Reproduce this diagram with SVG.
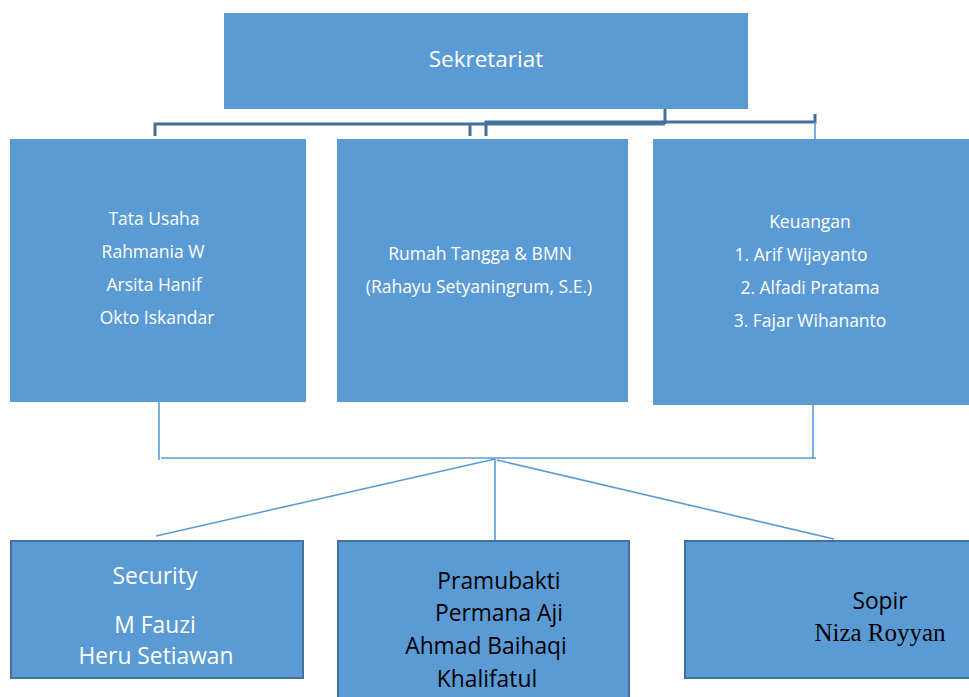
<svg xmlns="http://www.w3.org/2000/svg" width="969" height="697" viewBox="0 0 969 697">
<style>
.box{fill:#5B9BD5}
.box2{fill:#5B9BD5;stroke:#41719C;stroke-width:2}
.t{font-family:"Open Sans","Liberation Sans",sans-serif;fill:#fff;text-anchor:middle}
.m{font-size:17.5px}
.b{font-family:"Open Sans","Liberation Sans",sans-serif;fill:#000;text-anchor:middle;font-size:22.8px}
.dk{fill:none;stroke:#41719C;stroke-width:3}
.lt{fill:none;stroke:#5B9BD5;stroke-width:1.6}
</style>
<rect width="969" height="697" fill="#fff"/>
<g id="connectors">
<path class="dk" d="M155,136 V124 H665 M665,109 V124 M470,136 V124 M486,136 V122 H815 V114"/>
<path class="lt" d="M815,122 V140"/>
<path class="lt" d="M159,402 V460 M161,458 H816 M813,404 V458 M495,459 V540 M495,459 L156,536 M497,460 L834,539"/>
</g>
<g id="sekretariat">
<rect class="box" x="224" y="13" width="524" height="96"/>
<text class="t" x="486" y="67" font-size="22.5">Sekretariat</text>
</g>
<g id="tata-usaha">
<rect class="box" x="10" y="139" width="296" height="263"/>
<text class="t m" x="154" y="225">Tata Usaha</text>
<text class="t m" x="153" y="258">Rahmania W</text>
<text class="t m" x="154" y="291">Arsita Hanif</text>
<text class="t m" x="157" y="324">Okto Iskandar</text>
</g>
<g id="rumah-tangga">
<rect class="box" x="337" y="139" width="291" height="263"/>
<text class="t m" x="480" y="260">Rumah Tangga &amp; BMN</text>
<text class="t m" x="479" y="293">(Rahayu Setyaningrum, S.E.)</text>
</g>
<g id="keuangan">
<rect class="box" x="653" y="139" width="316" height="266"/>
<text class="t m" x="810" y="228">Keuangan</text>
<text class="t m" x="801" y="261">1. Arif Wijayanto</text>
<text class="t m" x="810" y="294">2. Alfadi Pratama</text>
<text class="t m" x="810" y="327">3. Fajar Wihananto</text>
</g>
<g id="security">
<rect class="box2" x="11" y="541" width="292" height="137"/>
<text class="t" x="155" y="584" font-size="22.8">Security</text>
<text class="t" x="155" y="633" font-size="22.8">M Fauzi</text>
<text class="t" x="156" y="664" font-size="22.8">Heru Setiawan</text>
</g>
<g id="pramubakti">
<rect class="box2" x="338" y="541" width="291" height="170"/>
<text class="b" x="499" y="589">Pramubakti</text>
<text class="b" x="499" y="621">Permana Aji</text>
<text class="b" x="486" y="654">Ahmad Baihaqi</text>
<text class="b" x="487" y="687">Khalifatul</text>
</g>
<g id="sopir">
<rect class="box2" x="685" y="541" width="290" height="137"/>
<text class="b" x="880" y="609">Sopir</text>
<text x="880" y="641" font-family="'Liberation Serif',serif" font-size="25" text-anchor="middle" fill="#000">Niza Royyan</text>
</g>
</svg>
